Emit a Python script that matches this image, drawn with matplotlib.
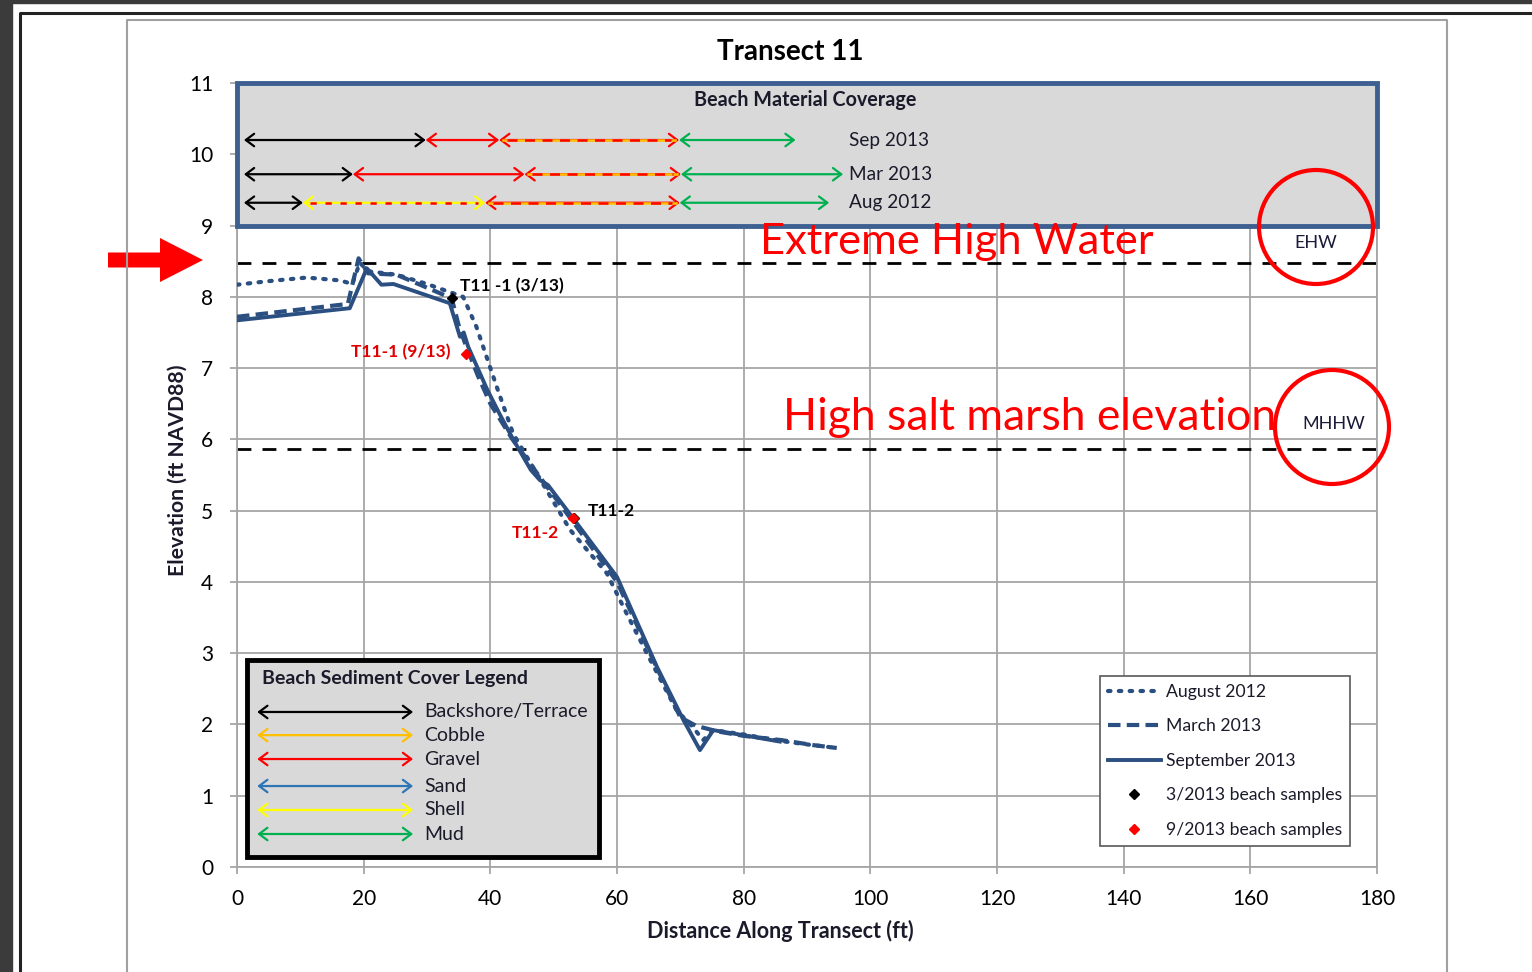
import numpy as np
import matplotlib
matplotlib.use('Agg')
import matplotlib.pyplot as plt
from matplotlib.patches import Rectangle, Circle, FancyArrow
from matplotlib.lines import Line2D
from matplotlib.transforms import IdentityTransform

plt.rcParams['font.family'] = ['Lato', 'DejaVu Sans']

W, H = 1532, 972

# ---------------- data ----------------
aug12_x = [0, 5, 11, 16.3, 18.2, 19.4, 20.6, 25.2, 30, 35.7, 37.8, 39.4, 41, 43.6, 48, 52.6, 58.4, 61.5, 64.7, 69.4, 72, 73.6, 75.2, 80, 85.7, 90, 94.7]
aug12_y = [8.17, 8.22, 8.27, 8.23, 8.18, 8.48, 8.36, 8.31, 8.18, 8.0, 7.58, 7.16, 6.74, 6.08, 5.42, 4.73, 4.12, 3.56, 3.0, 2.2, 1.96, 1.78, 1.92, 1.86, 1.77, 1.72, 1.67]

mar13_x = [0, 17.5, 19.2, 20.7, 25.2, 33.9, 35, 36, 38, 40, 43.5, 48, 53, 60, 66, 70, 72.5, 76, 80, 86, 91, 94.7]
mar13_y = [7.72, 7.9, 8.54, 8.33, 8.31, 7.98, 7.6, 7.35, 6.9, 6.5, 6.0, 5.45, 4.85, 4.0, 2.85, 2.1, 1.98, 1.9, 1.84, 1.78, 1.71, 1.67]

sep13_x = [0, 17.8, 20.5, 22.8, 24.7, 33.6, 35.2, 35.8, 36.5, 39.5, 41.5, 43.6, 46.4, 47.8, 49.1, 53.1, 60, 66.3, 70.5, 73.1, 75.2, 79.9, 85.7]
sep13_y = [7.67, 7.84, 8.4, 8.17, 8.18, 7.91, 7.44, 7.5, 7.3, 6.7, 6.35, 6.0, 5.57, 5.43, 5.36, 4.89, 4.07, 2.81, 2.06, 1.64, 1.92, 1.85, 1.76]

samples_mar13 = [(33.9, 7.98, 'T11 -1 (3/13)'), (53.2, 4.9, 'T11-2')]
samples_sep13 = [(36.2, 7.2, 'T11-1 (9/13)'), (53.1, 4.89, 'T11-2')]

ehw = 8.47
mhhw = 5.86

cov_rows = ['Sep 2013', 'Mar 2013', 'Aug 2012']
cov_segments = [
    [(1.1, 29.8, 'backshore'), (29.8, 41.4, 'gravel'), (41.4, 69.8, 'gravel_cobble'), (69.8, 88.2, 'mud')],
    [(1.1, 18.3, 'backshore'), (18.3, 45.4, 'gravel'), (45.4, 70.1, 'gravel_cobble'), (70.1, 95.7, 'mud')],
    [(1.1, 10.4, 'backshore'), (10.4, 39.2, 'shell_gravel'), (39.2, 69.9, 'gravel_cobble'), (69.9, 93.5, 'mud')],
]

sed_names = ['Backshore/Terrace', 'Cobble', 'Gravel', 'Sand', 'Shell', 'Mud']
sed_colors = ['black', '#FFC000', '#FF0000', '#2E75B6', '#FFFF00', '#00B050']

line_col = '#2B4F81'
grid_col = '#a6a6a6'
txt_col = '#1a1a2a'

# ---------------- figure ----------------
fig = plt.figure(figsize=(W / 100, H / 100), dpi=100)
fig.patch.set_facecolor('white')

def fx(x):
    return x / W

def fy(y):
    return 1 - y / H

# dark viewer edges and page frame
fig.add_artist(Rectangle((0, 0), fx(12), 1, transform=fig.transFigure, color='#3b3b3b', zorder=0))
fig.add_artist(Rectangle((0, fy(3)), 1, fy(0) - fy(3), transform=fig.transFigure, color='#3b3b3b', zorder=0))
fig.add_artist(Line2D([fx(20), fx(20), 1], [0, fy(13), fy(13)], transform=fig.transFigure, color='#222222', lw=2.2))
fig.add_artist(Line2D([fx(127), fx(127), fx(1447), fx(1447)], [0, fy(20), fy(20), 0], transform=fig.transFigure, color='#a0a0a0', lw=1.5))

ax = fig.add_axes([fx(237), fy(867), (1377 - 237) / W, (867 - 83) / H])
ax.set_xlim(0, 180)
ax.set_ylim(0, 11)
ax.set_xticks(np.arange(0, 181, 20))
ax.set_yticks(np.arange(0, 12, 1))
ax.grid(True, color=grid_col, lw=1.3)
ax.set_axisbelow(True)
for s in ax.spines.values():
    s.set_color(grid_col)
    s.set_linewidth(1.3)
ax.tick_params(colors=grid_col, labelcolor='black', labelsize=15, length=5, width=1.3)
ax.tick_params(axis='x', pad=11)
ax.tick_params(axis='y', pad=12)

# water levels
ax.axhline(ehw, color='black', lw=2, dashes=(5, 4), zorder=2)
ax.axhline(mhhw, color='black', lw=2, dashes=(5, 4), zorder=2)

# profiles
ax.plot(aug12_x, aug12_y, color=line_col, lw=3, linestyle=(0, (0.6, 2.0)), dash_capstyle='round', zorder=4)
ax.plot(mar13_x, mar13_y, color=line_col, lw=3, dashes=(3, 1.5), zorder=4)
ax.plot(sep13_x, sep13_y, color=line_col, lw=2.8, zorder=4)

for x, y, t in samples_mar13:
    ax.plot(x, y, marker='D', color='black', ms=5, zorder=6)
for x, y, t in samples_sep13:
    ax.plot(x, y, marker='D', color='red', ms=5, zorder=7)

ax.text(35.2, 8.15, samples_mar13[0][2], fontsize=12.5, fontweight='bold', color='black', va='center', zorder=8)
ax.text(55.4, 5.0, samples_mar13[1][2], fontsize=12.5, fontweight='bold', color='black', va='center', zorder=8)
ax.text(18.0, 7.22, samples_sep13[0][2], fontsize=12.5, fontweight='bold', color='#e00000', va='center', zorder=8)
ax.text(43.4, 4.69, samples_sep13[1][2], fontsize=12.5, fontweight='bold', color='#e00000', va='center', zorder=8)

# coverage box
ax.add_patch(Rectangle((0, 9), 180, 2, facecolor='#d9d9d9', edgecolor='#3d6091', lw=3.5, zorder=3, clip_on=False))
ax.text(89.7, 10.76, 'Beach Material Coverage', fontsize=14.2, fontweight='bold', ha='center', va='center',
        color=txt_col, zorder=5)

def arrow(x0, x1, y, c):
    ax.annotate('', xy=(x1, y), xytext=(x0, y),
                arrowprops=dict(arrowstyle='<->,head_length=0.6,head_width=0.45', color=c, lw=1.6,
                                shrinkA=0, shrinkB=0), zorder=5)

row_y = [10.2, 9.72, 9.32]
for label, segs, y in zip(cov_rows, cov_segments, row_y):
    for x0, x1, kind in segs:
        if kind == 'backshore':
            arrow(x0, x1, y, 'black')
        elif kind == 'gravel':
            arrow(x0, x1, y, '#FF0000')
        elif kind == 'mud':
            arrow(x0, x1, y, '#00B050')
        elif kind == 'gravel_cobble':
            arrow(x0, x1, y, '#FF0000')
            ax.plot([x0 + 0.6, x1 - 0.6], [y, y], color='#FFC000', lw=1.8, zorder=6)
            ax.plot([x0 + 1.2, x1 - 1.2], [y, y], color='#FF0000', lw=1.8, dashes=(4, 3), zorder=6)
        elif kind == 'shell_gravel':
            arrow(x0, x1, y, '#FFFF00')
            ax.plot([x0 + 1.2, x1 - 1.2], [y, y], color='#FF0000', lw=1.8, dashes=(2.5, 3.5), zorder=6)
    ax.text(96.6, y, label, fontsize=13.7, va='center', color=txt_col, zorder=5)

# sediment legend
ax.add_patch(Rectangle((1.6, 0.14), 55.6, 2.76, facecolor='#d9d9d9', edgecolor='black', lw=3.5, zorder=5))
ax.text(3.9, 2.64, 'Beach Sediment Cover Legend', fontsize=14, fontweight='bold', va='center',
        color=txt_col, zorder=6)
leg_y = [2.175, 1.85, 1.515, 1.136, 0.8, 0.463]
for name, c, y in zip(sed_names, sed_colors, leg_y):
    ax.annotate('', xy=(27.8, y), xytext=(3.2, y),
                arrowprops=dict(arrowstyle='<->,head_length=0.6,head_width=0.45', color=c, lw=1.6,
                                shrinkA=0, shrinkB=0), zorder=6)
    ax.text(29.6, y, name, fontsize=14, va='center', color=txt_col, zorder=6)

# line legend
handles = [
    Line2D([], [], color=line_col, lw=3, linestyle=(0, (0.6, 2.0)), dash_capstyle='round'),
    Line2D([], [], color=line_col, lw=3, dashes=(3, 1.5)),
    Line2D([], [], color=line_col, lw=2.8),
    Line2D([], [], color='black', marker='D', ms=5, lw=0),
    Line2D([], [], color='red', marker='D', ms=5, lw=0),
]
labels = ['August 2012', 'March 2013', 'September 2013', '3/2013 beach samples', '9/2013 beach samples']
leg = ax.legend(handles, labels, loc='lower right', bbox_to_anchor=(0.9765, 0.027), fontsize=12.7,
                frameon=True, fancybox=False, edgecolor='#595959', framealpha=1,
                handlelength=3.0, handletextpad=0.3, labelspacing=1.05, borderpad=0.45, borderaxespad=0)
leg.get_frame().set_linewidth(1.2)
leg.set_zorder(6)
for t in leg.get_texts():
    t.set_color(txt_col)

# annotations
ax.text(82.6, 8.77, 'Extreme High Water', fontsize=31.3, color='red', va='center', zorder=8)
ax.text(86.2, 6.3, 'High salt marsh elevation', fontsize=32, color='red', va='center', zorder=8)
ax.text(170.4, 8.755, 'EHW', fontsize=13, color='#1a1a3a', ha='center', va='center', zorder=8)
ax.text(173.1, 6.22, 'MHHW', fontsize=13, color='#1a1a3a', ha='center', va='center', zorder=8)

fig.add_artist(Circle((1316, H - 227), 57, transform=IdentityTransform(), fill=False, edgecolor='red', lw=3))
fig.add_artist(Circle((1332, H - 427), 57, transform=IdentityTransform(), fill=False, edgecolor='red', lw=3))
fig.add_artist(FancyArrow(108, H - 260, 95, 0, width=15, head_width=44, head_length=43,
                          length_includes_head=True, transform=IdentityTransform(), color='red', lw=0))

# titles
fig.text(fx(790), fy(52), 'Transect 11', fontsize=20, fontweight='bold', ha='center', va='center')
fig.text(fx(780), fy(931), 'Distance Along Transect (ft)', fontsize=15.5, fontweight='bold', ha='center',
         va='center', color=txt_col)
fig.text(fx(178), fy(470), 'Elevation (ft NAVD88)', fontsize=15.2, fontweight='bold', ha='center', va='center',
         rotation=90, color=txt_col)

fig.savefig('out.png', dpi=100)
